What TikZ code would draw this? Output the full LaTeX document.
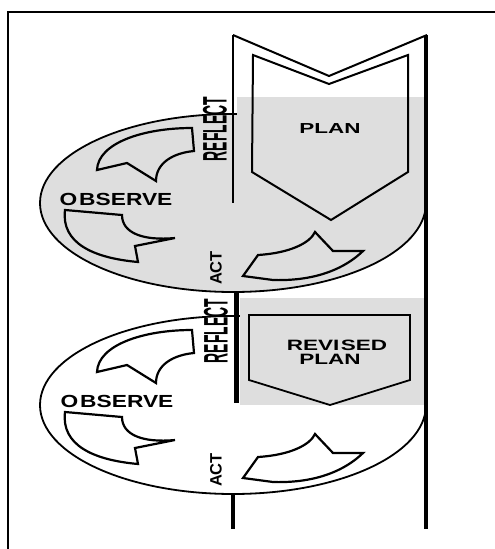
\documentclass[tikz,border=0pt]{standalone}
\usepackage{fontspec}
\setmainfont{Liberation Sans}
\definecolor{panelgray}{RGB}{222,222,222}
\newcommand\fsz[1]{\fontsize{#1}{#1}\selectfont\bfseries}
% three curved block arrows of one cycle, in coordinates relative to the cycle centre
\newcommand\cyclearrows{%
  \draw[arrowline] (-41,-75) -- (-39,-52) .. controls (-60,-50) and (-77,-40) .. (-77,-22)
    -- (-106,-40) -- (-136,-33) .. controls (-135,-60) and (-90,-75) .. cycle;
  \draw[arrowline] (-168,7) -- (-111,12) .. controls (-111,30) and (-90,38) .. (-58,35)
    -- (-98,43) -- (-95,59) .. controls (-140,55) and (-172,40) .. cycle;
  \draw[arrowline] (10,73) -- (25,52) .. controls (57,50) and (77,40) .. (82,29)
    -- (100,48) -- (130,48) .. controls (105,72) and (70,78) .. (40,77) -- cycle;
}
\begin{document}
\begin{tikzpicture}[x=1pt,y=-1pt,
  cycleoval/.style={line width=1.8pt},
  arrowline/.style={line width=2.2pt, line join=miter},
  planline/.style={line width=2pt, line join=miter},
  txt/.style={inner sep=0pt, outer sep=0pt},
]
\useasboundingbox (0,0) rectangle (495,549);

% open frame
\draw[line width=1.5pt] (8,549) -- (8,12) -- (495,12);

% ---------- first cycle ----------
\draw[cycleoval, fill=panelgray] (233,203) ellipse [x radius=193, y radius=89];
\fill[panelgray] (237,97) rectangle (424,203);
\draw[line width=2.6pt] (233,35) -- (233,203);
\draw[planline] (233,35) -- (329,76) -- (427,35);
\draw[planline] (253,55) -- (329,84) -- (408,55) -- (408,172) -- (331,220) -- (252,172) -- cycle;
\begin{scope}[shift={(233,203)}]
  \cyclearrows
\end{scope}
\node[txt, font=\fsz{17.5}, xscale=1.3] (observeA) at (116,199) {O\kern1.5pt BSERVE};
\node[txt, font=\fsz{14.5}, xscale=1.55] (planA) at (330,129) {PLAN};
\node[txt, font=\fsz{34}, rotate=90, xscale=0.41] (reflectA) at (215,129) {REFLECT};
\node[txt, font=\fsz{16.5}, rotate=90, xscale=1.0] (actA) at (216,268) {ACT};

% ---------- second cycle ----------
\draw[cycleoval] (233,405) ellipse [x radius=193, y radius=89];
\fill[panelgray] (240,298) rectangle (424,405);
\draw[line width=5pt] (236,292) -- (236,403);
\draw[line width=1.8pt, line join=miter] (249,315) -- (410,315) -- (410,380) -- (330,405) -- (249,380) -- cycle;
\begin{scope}[shift={(233,405)}]
  \cyclearrows
\end{scope}
\node[txt, font=\fsz{17.5}, xscale=1.3] (observeB) at (117,401) {O\kern1.5pt BSERVE};
\node[txt, font=\fsz{15}, xscale=1.5] (revisedB) at (337,345) {REVI\kern1pt SED};
\node[txt, font=\fsz{15}, xscale=1.5] (planB) at (330,359) {PLAN};
\node[txt, font=\fsz{34}, rotate=90, xscale=0.41] (reflectB) at (216,331) {REFLECT};
\node[txt, font=\fsz{16.5}, rotate=90, xscale=1.0] (actB) at (216,470) {ACT};

% spine below the cycles and the long right rail
\draw[line width=4pt] (233,494) -- (233,529);
\draw[line width=4.5pt] (426,35) -- (426,529);
\end{tikzpicture}
\end{document}
